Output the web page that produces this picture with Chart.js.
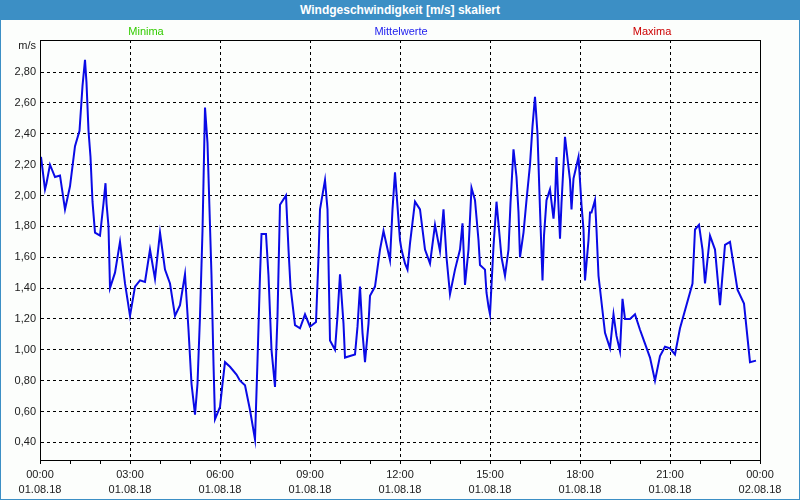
<!DOCTYPE html>
<html>
<head>
<meta charset="utf-8">
<script src="https://cdn.jsdelivr.net/npm/chart.js@4"></script>
<style>
  html, body { margin: 0; padding: 0; background: #fcfefc; }
  #frame { position: relative; width: 800px; height: 500px; overflow: hidden; background: #fcfefc; }
  #title {
    position: absolute; left: 0; top: 0; width: 800px; height: 20px;
    background: #3c8fc5; color: #fff; text-align: center;
    font: bold 12px "Liberation Sans", Arial, sans-serif; line-height: 20px;
  }
  #chart { position: absolute; left: 0; top: 20px; }
  #border {
    position: absolute; left: 0; top: 0; width: 798px; height: 499px;
    border: 1px solid #3c8fc5; border-top: none; pointer-events: none;
  }
</style>
</head>
<body>
<div id="frame">
  <div id="title">Windgeschwindigkeit [m/s] skaliert</div>
  <canvas id="chart" width="800" height="480"></canvas>
  <div id="border"></div>
</div>
<script>
// Data (minutes since 01.08.18 00:00, m/s)
const minutes = [
  2, 10, 13, 20, 30, 40, 50, 60, 70, 79, 85, 90, 93, 97, 101, 105, 110, 120, 127, 131, 133, 137,
  140, 150, 160, 170, 180, 190, 200, 210, 220, 230, 240, 250, 260, 270, 280, 290, 297, 303, 310,
  315, 320, 325, 330, 335, 339, 343, 347, 350, 360, 365, 370, 380, 393, 400, 410, 420, 430, 435,
  440, 443, 452, 457, 463, 470, 475, 480, 492, 497, 501, 510, 520, 530, 540, 552, 557, 560, 570,
  575, 580, 590, 595, 600, 607, 610, 620, 630, 635, 640, 645, 650, 657, 660, 670, 680, 687, 700,
  705, 710, 720, 723, 730, 735, 740, 750, 760, 770, 780, 790, 800, 807, 813, 820, 830, 840, 845,
  850, 857, 863, 870, 877, 880, 890, 893, 897, 900, 907, 913, 923, 930, 937, 941, 947, 953, 957,
  960, 967, 973, 980, 985, 990, 995, 1000, 1005, 1008, 1013, 1020, 1027, 1030, 1033, 1037, 1040,
  1043, 1050, 1060, 1063, 1067, 1077, 1083, 1087, 1090, 1097, 1100, 1103, 1110, 1113, 1117, 1130,
  1140, 1147, 1153, 1160, 1165, 1170, 1180, 1190, 1200, 1210, 1220, 1230, 1240, 1250, 1260, 1270,
  1280, 1305, 1310, 1318, 1325, 1330, 1340, 1350, 1360, 1370, 1380, 1395, 1408, 1420, 1432
];
const speeds = [
  2.25, 2.04, 2.08, 2.20, 2.12, 2.13, 1.91, 2.06, 2.32, 2.42, 2.71, 2.88, 2.73, 2.42, 2.25, 1.96,
  1.76, 1.74, 1.95, 2.08, 1.95, 1.80, 1.40, 1.50, 1.70, 1.43, 1.22, 1.41, 1.45, 1.44, 1.65, 1.46,
  1.76, 1.52, 1.43, 1.22, 1.29, 1.49, 1.13, 0.78, 0.58, 0.78, 1.22, 1.77, 2.57, 2.34, 1.91, 1.48,
  0.91, 0.55, 0.63, 0.78, 0.92, 0.89, 0.84, 0.80, 0.77, 0.61, 0.42, 0.93, 1.48, 1.75, 1.75, 1.48,
  1.00, 0.76, 1.22, 1.94, 2.00, 1.65, 1.41, 1.16, 1.14, 1.23, 1.15, 1.18, 1.60, 1.91, 2.10, 1.91,
  1.06, 1.00, 1.22, 1.49, 1.17, 0.95, 0.96, 0.97, 1.15, 1.41, 1.11, 0.92, 1.17, 1.35, 1.41, 1.65,
  1.77, 1.58, 1.91, 2.15, 1.71, 1.65, 1.56, 1.52, 1.69, 1.96, 1.91, 1.65, 1.56, 1.81, 1.64, 1.91,
  1.60, 1.36, 1.52, 1.65, 1.82, 1.42, 1.65, 2.05, 1.97, 1.71, 1.55, 1.52, 1.37, 1.28, 1.23, 1.67,
  1.96, 1.60, 1.48, 1.65, 1.95, 2.30, 2.12, 1.89, 1.60, 1.76, 1.97, 2.20, 2.45, 2.64, 2.40, 1.91,
  1.45, 1.74, 1.97, 2.04, 1.85, 1.97, 2.25, 1.93, 1.72, 1.95, 2.38, 2.10, 1.91, 2.11, 2.25, 1.94,
  1.78, 1.45, 1.71, 1.89, 1.89, 1.97, 1.78, 1.48, 1.11, 1.01, 1.23, 1.09, 0.99, 1.33, 1.20, 1.20,
  1.23, 1.13, 1.04, 0.95, 0.80, 0.96, 1.02, 1.01, 0.97, 1.14, 1.43, 1.78, 1.81, 1.65, 1.43, 1.74,
  1.65, 1.29, 1.68, 1.70, 1.39, 1.30, 0.92, 0.93, 1.00
];
const yTicks = [0.4, 0.6, 0.8, 1.0, 1.2, 1.4, 1.6, 1.8, 2.0, 2.2, 2.4, 2.6, 2.8];
const xTickTimes = ['00:00', '03:00', '06:00', '09:00', '12:00', '15:00', '18:00', '21:00', '00:00'];
const xTickDates = ['01.08.18', '01.08.18', '01.08.18', '01.08.18', '01.08.18', '01.08.18', '01.08.18', '01.08.18', '02.08.18'];
const legendNames = ['Minima', 'Mittelwerte', 'Maxima'];
const legendColors = ['#33cc00', '#2222ee', '#cc0000'];

const FONT = '"Liberation Sans", Arial, sans-serif';

// frame, legend texts and unit label
const decorPlugin = {
  id: 'decor',
  afterDraw(chart) {
    const ctx = chart.ctx;
    const a = chart.chartArea;
    ctx.save();
    ctx.strokeStyle = '#000';
    ctx.lineWidth = 1;
    ctx.setLineDash([]);
    ctx.strokeRect(Math.round(a.left) + 0.5, Math.round(a.top) + 0.5,
      Math.round(a.right - a.left) - 0, Math.round(a.bottom - a.top));
    ctx.font = '11px ' + FONT;
    ctx.textBaseline = 'middle';
    ctx.textAlign = 'center';
    const centers = [146, 401, 652];
    legendNames.forEach((name, i) => {
      ctx.fillStyle = legendColors[i];
      ctx.fillText(name, centers[i], 12);
    });
    ctx.fillStyle = '#202020';
    ctx.textAlign = 'right';
    ctx.fillText('m/s', 36, 26);
    ctx.restore();
  }
};

const points = minutes.map((m, i) => ({ x: m, y: speeds[i] }));

new Chart(document.getElementById('chart').getContext('2d'), {
  type: 'line',
  data: {
    datasets: [{
      label: 'Mittelwerte',
      data: points,
      borderColor: '#0a0ae6',
      borderWidth: 2,
      pointRadius: 0,
      tension: 0,
      fill: false
    }]
  },
  options: {
    responsive: false,
    animation: false,
    devicePixelRatio: 1,
    layout: { padding: { left: 0, top: 20, right: 40, bottom: 0 } },
    plugins: { legend: { display: false }, tooltip: { enabled: false } },
    scales: {
      x: {
        type: 'linear',
        min: 0,
        max: 1440,
        afterFit(scale) { scale.height = 40; },
        ticks: {
          stepSize: 60,
          autoSkip: false,
          maxRotation: 0,
          padding: 4,
          color: '#202020',
          font: { family: FONT, size: 11, lineHeight: 1.35 },
          callback(v) {
            if (v % 180 !== 0) return '';
            const i = v / 180;
            return [xTickTimes[i], xTickDates[i]];
          }
        },
        grid: {
          color: ctx => (ctx.tick && ctx.tick.value % 180 === 0) ? '#000' : 'rgba(0,0,0,0)',
          tickColor: '#000',
          tickLength: 4,
          tickBorderDash: [],
          lineWidth: 1
        },
        border: { color: '#000', width: 1, dash: [3, 3] }
      },
      y: {
        min: 0.286,
        max: 3.008,
        afterFit(scale) { scale.width = 40; },
        afterBuildTicks(scale) { scale.ticks = yTicks.map(v => ({ value: v })); },
        ticks: {
          padding: 4,
          color: '#202020',
          font: { family: FONT, size: 11 },
          callback: v => v.toFixed(2).replace('.', ',')
        },
        grid: {
          color: '#000',
          drawTicks: false,
          lineWidth: 1
        },
        border: { color: '#000', width: 1, dash: [3, 3] }
      }
    }
  },
  plugins: [decorPlugin]
});
</script>
</body>
</html>
